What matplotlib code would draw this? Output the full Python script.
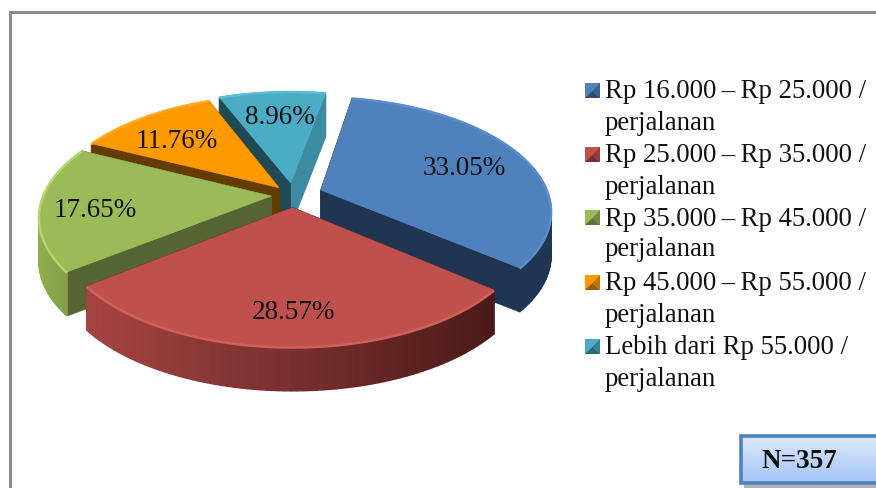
import numpy as np
import matplotlib
matplotlib.use('Agg')
import matplotlib.pyplot as plt
from matplotlib.colors import to_rgb

values = [33.05, 28.57, 17.65, 11.76, 8.96]
pct_labels = ['33.05%', '28.57%', '17.65%', '11.76%', '8.96%']
legend_labels = ['Rp 16.000\u2009\u2013\u2009Rp 25.000 /', 'Rp 25.000\u2009\u2013\u2009Rp 35.000 /',
                 'Rp 35.000\u2009\u2013\u2009Rp 45.000 /', 'Rp 45.000\u2009\u2013\u2009Rp 55.000 /',
                 'Lebih dari Rp 55.000 /']
second_line = 'perjalanan'
n_label = 'N=357'
explode = [0.13, 0.11, 0.095, 0.09, 0.11]
label_pos = [0.72, 0.72, 0.78, 0.66, 0.70]
label_nudge = [(-2, 4), (4, 10), (4, 5), (-10, 2), (3, 1)]   # pixels

top_col = ['#4f81bd', '#c0504d', '#9bbb59', '#ff9900', '#4bacc6']
rim_col = ['#5a8dca', '#d0605c', '#b4d46c', '#ffa91e', '#5cbcd6']
arc_start = ['#1f3552', '#a54442', '#8fae50', '#653c00', '#3d8aa3']
arc_end = ['#1f3552', '#4a1a18', '#7a9844', '#653c00', '#3d8aa3']
wall_a = ['#1f3552', '#4a1a18', '#566431', '#653c00', '#3d8aa3']
wall_b = ['#1f3552', '#4a1a18', '#566431', '#653c00', '#1f4a55']

W, H = 876, 488
cx, cy = 293, 195   # pie centre in pixels
rx, ry = 228, 111
k = 0.17            # perspective
depth = 44 / ry

plt.rcParams['font.family'] = ['Liberation Serif', 'DejaVu Serif']

fig = plt.figure(figsize=(W / 100, H / 100), dpi=100)
ax = fig.add_axes([0, 0, 1, 1])
wedges, _ = ax.pie(values, explode=explode, startangle=79.5, counterclock=False, radius=1)
ax.set_aspect('auto')
ax.set_xlim(-cx / rx, (W - cx) / rx)
ax.set_ylim(-(H - cy) / ry, cy / ry)
ax.axis('off')


def project(x, y):
    w = 1 / (1 + k * y)
    return x * w, y * w


def mix(a, b, t):
    a, b = np.array(to_rgb(a)), np.array(to_rgb(b))
    return tuple(a + (b - a) * t)


# back to front: teal, orange, green, blue, red
for i in [4, 3, 2, 0, 1]:
    wd = wedges[i]
    wd.set_visible(False)
    c0, c1 = wd.center
    th = np.radians(np.linspace(wd.theta1, wd.theta2, 80))
    px, py = project(c0 + np.cos(th), c1 + np.sin(th))
    ax0, ay0 = project(c0, c1)

    # radial walls
    for j, col in [(0, wall_a[i]), (-1, wall_b[i])]:
        ax.fill([ax0, px[j], px[j], ax0], [ay0, py[j], py[j] - depth, ay0 - depth], color=col, lw=0.5)

    # outer wall, front part only, shaded from left to right
    for j in range(len(th) - 1):
        if np.sin(th[j]) > 0.05:
            continue
        t = (px[j] - px.min()) / max(px.max() - px.min(), 1e-6)
        col = mix(arc_start[i], arc_end[i], t)
        ax.fill([px[j], px[j + 1], px[j + 1], px[j]],
                [py[j], py[j + 1], py[j + 1] - depth, py[j] - depth],
                color=col, lw=1)

    ax.fill(np.r_[ax0, px], np.r_[ay0, py], color=top_col[i], lw=0.3)
    ax.plot(px, py - 0.006, color=rim_col[i], lw=1.8, solid_capstyle='butt')

# percent labels on top of all slices
for i, wd in enumerate(wedges):
    c0, c1 = wd.center
    mid = np.radians((wd.theta1 + wd.theta2) / 2)
    lx, ly = project(c0 + label_pos[i] * np.cos(mid), c1 + label_pos[i] * np.sin(mid))
    ax.text(lx + label_nudge[i][0] / rx, ly - label_nudge[i][1] / ry, pct_labels[i], fontsize=19.5,
            color='#111111', ha='center', va='center', zorder=10)

# pixel overlay for frame, legend and the N box
ov = fig.add_axes([0, 0, 1, 1], facecolor='none')
ov.set_xlim(0, W)
ov.set_ylim(H, 0)
ov.axis('off')

ov.plot([10, 10, W], [H, 12, 12], color='#8c8c8c', lw=2.2, solid_joinstyle='miter')

leg_y = [90, 154, 217, 282, 346]
for i, lab in enumerate(legend_labels):
    y = leg_y[i]
    ov.fill([585, 600, 600, 585], [y - 7, y - 7, y + 8, y + 8], color=top_col[i], lw=0)
    ov.fill([585, 592.5, 600], [y + 8, y + 1, y + 8], color=mix(top_col[i], '#000000', 0.4), lw=0)
    ov.fill([600, 592.5, 600], [y - 7, y + 1, y + 8], color=mix(top_col[i], '#000000', 0.25), lw=0)
    ov.text(605, y + 2, lab, fontsize=19.3, color='#111111', ha='left', va='center')
    ov.text(605, y + 33, second_line, fontsize=19.3, color='#111111', ha='left', va='center')

# N box
ov.fill([744, W, W, 744], [440, 440, H, H], color='#b5b5b5', lw=0)
grad = np.linspace(0, 1, 50).reshape(-1, 1)
top, bottom = np.array(to_rgb('#dce8fc')), np.array(to_rgb('#a4c5f6'))
img = (top + (bottom - top) * grad)[:, np.newaxis, :].reshape(50, 1, 3)
ov.imshow(img, extent=(741, W, 483, 436), aspect='auto', zorder=2)
ov.plot([W, 741, 741, W], [436, 436, 483, 483], color='#4f81bd', lw=2.6, zorder=3, solid_joinstyle='miter')
ov.text(799, 461, n_label, fontsize=19.5, fontweight='bold', color='#111111', ha='center', va='center', zorder=4)
ov.set_xlim(0, W)
ov.set_ylim(H, 0)

fig.savefig('out.png', dpi=100, facecolor='white')
